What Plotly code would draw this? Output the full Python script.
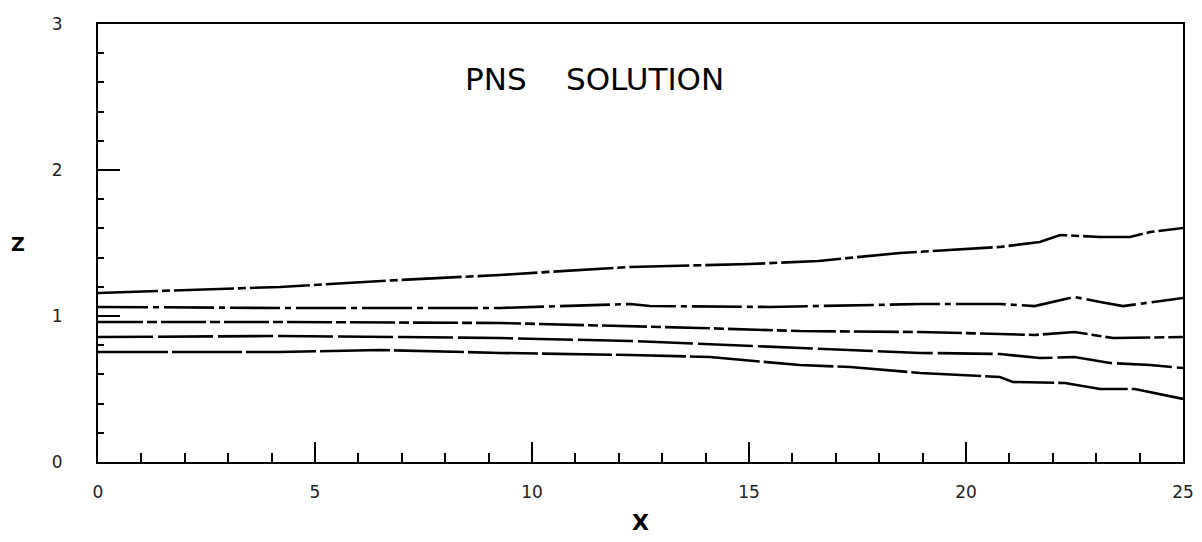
import plotly.graph_objects as go

# Data (x, z)
x1 = [0, 4.19, 6.96, 9.26, 12.26, 15.02, 16.6, 18.48, 20.78, 21.7, 22.17, 23.09, 23.78, 24.24, 25]
z1 = [1.158, 1.199, 1.247, 1.281, 1.336, 1.356, 1.377, 1.432, 1.473, 1.507, 1.555, 1.541, 1.541, 1.575, 1.603]

x2 = [0, 4.19, 9.26, 12.26, 12.72, 15.48, 18.94, 20.78, 21.58, 22.5, 23.09, 23.62, 25]
z2 = [1.062, 1.055, 1.055, 1.082, 1.068, 1.062, 1.082, 1.082, 1.068, 1.13, 1.096, 1.068, 1.123]

x3 = [0, 4.19, 9.26, 12.26, 13.87, 16.17, 18.94, 20.78, 21.58, 22.5, 23.39, 25]
z3 = [0.959, 0.959, 0.952, 0.932, 0.918, 0.897, 0.890, 0.877, 0.870, 0.890, 0.849, 0.856]

x4 = [0, 4.19, 6.96, 9.26, 12.26, 13.87, 16.17, 18.94, 20.78, 21.7, 22.5, 23.32, 24.24, 25]
z4 = [0.856, 0.863, 0.856, 0.849, 0.829, 0.808, 0.781, 0.747, 0.740, 0.712, 0.719, 0.678, 0.664, 0.644]

x5 = [0, 4.19, 6.50, 8.34, 9.26, 12.26, 13.87, 14.10, 16.17, 17.33, 18.94, 20.78, 21.08, 22.28, 23.09, 23.89, 25]
z5 = [0.753, 0.753, 0.767, 0.753, 0.747, 0.733, 0.719, 0.719, 0.664, 0.651, 0.610, 0.582, 0.548, 0.541, 0.500, 0.500, 0.432]

series = [(x1, z1), (x2, z2), (x3, z3), (x4, z4), (x5, z5)]
dashes = ["60px,4px,8px,4px", "50px,5px,6px,5px", "45px,4px,10px,4px", "55px,5px", "70px,4px"]

x_ticks = [0, 5, 10, 15, 20, 25]
y_ticks = [0, 1, 2, 3]

W, H = 1202, 542
L, R, T, B = 90, 27, 16, 88

fig = go.Figure()
for (xs, zs), d in zip(series, dashes):
    fig.add_trace(go.Scatter(x=xs, y=zs, mode="lines",
                             line=dict(color="black", width=2.6, dash=d),
                             showlegend=False, hoverinfo="skip"))

tick_font = dict(family="DejaVu Sans", size=17, color="#222")

fig.update_layout(
    width=W, height=H,
    margin=dict(l=L, r=R, t=T, b=B, autoexpand=False),
    paper_bgcolor="white", plot_bgcolor="white",
    showlegend=False,
    xaxis=dict(range=[0, 25], tickvals=x_ticks, ticks="inside", ticklen=20, tickwidth=2,
               tickcolor="black", showline=True, linecolor="black", linewidth=2,
               mirror=True, showgrid=False, zeroline=False, tickfont=tick_font,
               ticklabelstandoff=14,
               minor=dict(dtick=1, ticks="inside", ticklen=9, tickwidth=1.5, tickcolor="black",
                          showgrid=False)),
    yaxis=dict(range=[0, 3], tickvals=y_ticks, ticks="inside", ticklen=22, tickwidth=1.5,
               tickcolor="black", showline=True, linecolor="black", linewidth=2,
               mirror=True, showgrid=False, zeroline=False, tickfont=tick_font,
               ticklabelstandoff=30,
               minor=dict(dtick=0.2, ticks="inside", ticklen=6, tickwidth=1.5, tickcolor="black",
                          showgrid=False)),
)

pw = W - L - R
ph = H - T - B
# page is offset by the browser's default 8px body margin
def px_x(p):
    return (p - 8 - L) / pw
def px_y(p):
    return (H - (p - 8) - B) / ph

fig.add_annotation(text="PNS&nbsp;&nbsp;&nbsp;&nbsp;SOLUTION", x=11.45, y=2.62, xref="x", yref="y",
                   showarrow=False, xanchor="center", yanchor="middle",
                   font=dict(family="DejaVu Sans", size=31, color="black"))
fig.add_annotation(text="<b>Z</b>", x=px_x(18), y=px_y(244), xref="paper", yref="paper",
                   showarrow=False, xanchor="center", yanchor="middle",
                   font=dict(family="DejaVu Sans", size=19, color="black"))
fig.add_annotation(text="<b>X</b>", x=px_x(640), y=px_y(522), xref="paper", yref="paper",
                   showarrow=False, xanchor="center", yanchor="middle",
                   font=dict(family="DejaVu Sans", size=22, color="black"))

fig.write_html("out.html")
